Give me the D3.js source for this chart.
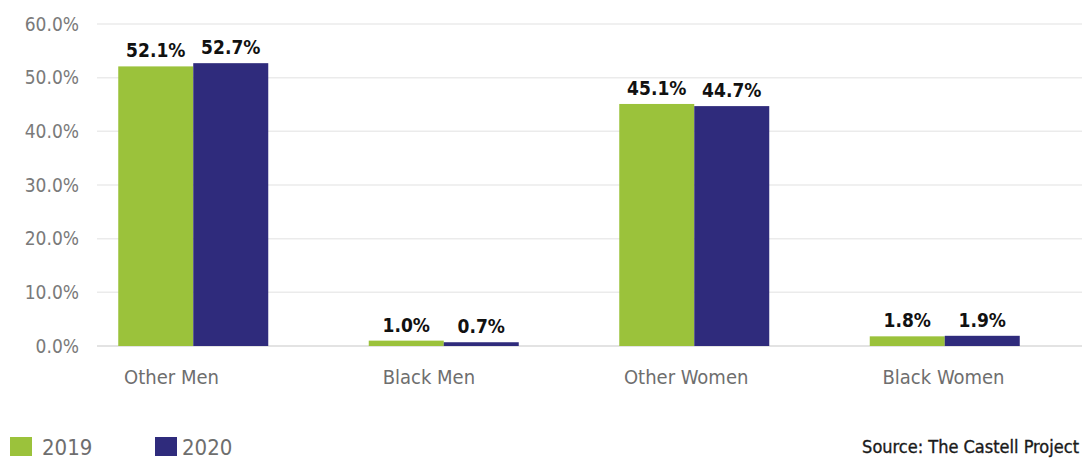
<!DOCTYPE html>
<html>
<head>
<meta charset="utf-8">
<script src="https://cdn.jsdelivr.net/npm/d3@7"></script>
<style>
  html, body { margin: 0; padding: 0; background: #fff; }
  svg { display: block; }
</style>
</head>
<body>
<svg id="chart" width="1082" height="461"></svg>
<script>
// Share of group by year
const categories = ["Other Men", "Black Men", "Other Women", "Black Women"];
const years = ["2019", "2020"];
const values2019 = [52.1, 1.0, 45.1, 1.8];
const values2020 = [52.7, 0.7, 44.7, 1.9];
const yTicks = [0, 10, 20, 30, 40, 50, 60];
const colors = ["#9bc23b", "#2f2b7c"];
const sourceText = "Source: The Castell Project";

const svg = d3.select("#chart");
const condensed = "'DejaVu Sans Condensed', 'Liberation Sans Narrow', sans-serif";

const x0 = d3.scaleBand().domain(categories).range([68, 1070]).paddingInner(0).paddingOuter(0);
const x1 = d3.scaleBand().domain(years).range([0, 150]);
const y = d3.scaleLinear().domain([0, 60]).range([346, 24]);
// category captions sit on their own, slightly wider spacing
const xLabel = d3.scalePoint().domain(categories).range([171, 943]);

// grid lines
svg.append("g").selectAll("line").data(yTicks).join("line")
  .attr("x1", 97).attr("x2", 1082)
  .attr("y1", d => y(d)).attr("y2", d => y(d))
  .attr("stroke", d => d === 0 ? "#dadada" : "#ebebeb")
  .attr("stroke-width", 1.5);

// y axis labels
const yAxis = d3.axisLeft(y).tickValues(yTicks).tickFormat(d => d3.format(".1f")(d) + "%").tickSize(0).tickPadding(0);
const ya = svg.append("g").attr("transform", "translate(79,0)").call(yAxis);
ya.select(".domain").remove();
ya.selectAll("text")
  .attr("fill", "#7a7a7a")
  .style("font-family", condensed)
  .style("font-size", "19px");

// bars
const rows = categories.map((c, i) => ({ cat: c, vals: [values2019[i], values2020[i]] }));
const groups = svg.append("g").selectAll("g").data(rows).join("g")
  .attr("transform", d => `translate(${x0(d.cat) + x0.bandwidth() / 2 - 75},0)`);

groups.selectAll("rect").data(d => d.vals.map((v, j) => ({ year: years[j], v, j }))).join("rect")
  .attr("x", d => x1(d.year))
  .attr("width", x1.bandwidth())
  .attr("y", d => y(d.v))
  .attr("height", d => y(0) - y(d.v))
  .attr("fill", d => colors[d.j]);

// value labels
groups.selectAll("text").data(d => d.vals.map((v, j) => ({ year: years[j], v, j }))).join("text")
  .attr("x", d => x1(d.year) + x1.bandwidth() / 2)
  .attr("y", d => y(d.v) - 9)
  .attr("text-anchor", "middle")
  .attr("fill", "#111")
  .style("font-family", condensed)
  .style("font-weight", "bold")
  .style("font-size", "19px")
  .text(d => d3.format(".1f")(d.v) + "%");

// category labels
const xAxis = d3.axisBottom(xLabel).tickSize(0).tickPadding(0);
const xa = svg.append("g").attr("transform", "translate(0,370)").call(xAxis);
xa.select(".domain").remove();
xa.selectAll("text")
  .attr("fill", "#6e6e6e")
  .style("font-family", condensed)
  .style("font-size", "20px");

// legend
const legend = svg.append("g").selectAll("g").data(years).join("g")
  .attr("transform", (d, i) => `translate(${[10, 155][i]},437)`);
legend.append("rect").attr("width", 22).attr("height", 19).attr("fill", (d, i) => colors[i]);
legend.append("text")
  .attr("x", (d, i) => [32, 27][i]).attr("y", 18)
  .attr("fill", "#6e6e6e")
  .style("font-family", condensed)
  .style("font-size", "22px")
  .text(d => d);

// source note
svg.append("text")
  .attr("x", 1079).attr("y", 453)
  .attr("text-anchor", "end")
  .attr("fill", "#1a1a1a")
  .attr("stroke", "#1a1a1a")
  .attr("stroke-width", 0.35)
  .style("font-family", condensed)
  .style("font-size", "18px")
  .text(sourceText);
</script>
</body>
</html>
